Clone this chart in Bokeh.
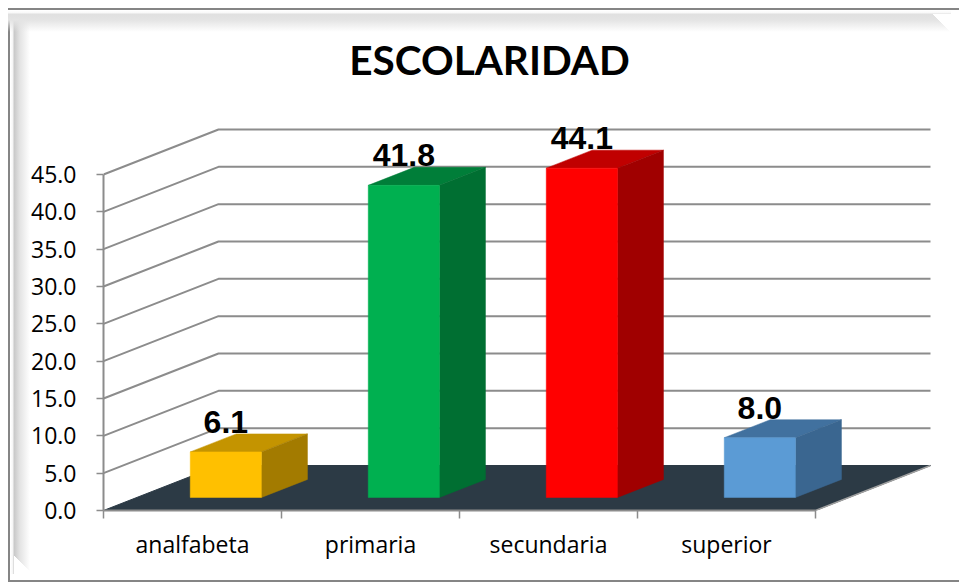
from bokeh.plotting import figure
from bokeh.models import LinearAxis, FixedTicker, Range1d
from bokeh.embed import file_html
from bokeh.resources import INLINE
from bokeh.core.properties import value

# ---- data ----
categories = ["analfabeta", "primaria", "secundaria", "superior"]
values = [6.1, 41.8, 44.1, 8.0]
labels = ["6.1", "41.8", "44.1", "8.0"]
y_ticks = [0, 5, 10, 15, 20, 25, 30, 35, 40, 45]
front_colors = ["#FFC000", "#00B050", "#FF0000", "#5B9BD5"]
top_colors = ["#C49400", "#007E39", "#C00000", "#41719F"]
side_colors = ["#A37B00", "#006F32", "#A00000", "#3A6690"]
chart_title = "ESCOLARIDAD"

# ---- pseudo-3D layout ----
W, H = 951, 574
CAT_PX, VAL_PX = 178.0, 7.467        # pixels per category / per value unit
DEPTH_X, DEPTH_Y = 115.0 / CAT_PX, 45.0 / VAL_PX   # full depth in data units
BAR_W = 0.40
D0, D1 = 0.29, 0.69                  # bar depth span, front to back
M_LEFT, M_TOP, M_BOTTOM = 103, 8, 64
GRID = "#8C8C8C"
n = len(categories)

bevel = ", ".join([
    "linear-gradient(to top right, #fff 50%, transparent 51%) 14px 100% / 18px 18px no-repeat",
    "linear-gradient(to bottom left, #fff 50%, transparent 51%) 100% 14px / 18px 18px no-repeat",
    "linear-gradient(to bottom, #858585 0, #858585 2px, #fff 2.5px, #f8f8f8 5px, #e0e0e0 6px, #e4e4e4 12px, rgba(255,255,255,0) 24px) 8px 8px / calc(100% - 8px) 24px no-repeat",
    "linear-gradient(to right, #858585 0, #858585 2px, #fff 2.5px, #f4f4f4 5px, #c8c8c8 6px, #e4e4e4 12px, rgba(255,255,255,0) 22px) 8px 8px / 22px calc(100% - 8px) no-repeat",
])
outer = ", ".join(["14px 8px 0 -2px #fff", "8px 8px 0 -2px #fff", "8px 8px 0 0 #858585"])

p = figure(width=W, height=H, output_backend="svg", toolbar_location=None,
           x_axis_type=None, y_axis_type=None,
           x_range=Range1d(0, (W - M_LEFT) / CAT_PX),
           y_range=Range1d(0, (H - M_TOP - M_BOTTOM) / VAL_PX),
           min_border_left=M_LEFT, min_border_right=0, min_border_top=M_TOP, min_border_bottom=M_BOTTOM,
           background_fill_color=None, border_fill_color=None,
           styles={"background": bevel, "box-shadow": outer})
p.outline_line_color = None
p.grid.visible = False

# floor
p.patch([0, n, n + DEPTH_X, DEPTH_X], [0, 0, DEPTH_Y, DEPTH_Y], fill_color="#2C3A45", line_color="#2C3A45")
p.line([n, n + DEPTH_X], [0, DEPTH_Y], line_color="#A0A0A0", line_width=1.5)

# side wall and back wall gridlines
for t in y_ticks[1:]:
    p.line([0, DEPTH_X, n + DEPTH_X], [t, t + DEPTH_Y, t + DEPTH_Y], line_color=GRID, line_width=2)

# bars
fx0, fx1, fy0, fy1 = [], [], [], []
txs, tys, sxs, sys = [], [], [], []
for i, v in enumerate(values):
    x0 = i + 0.5 - BAR_W / 2 + D0 * DEPTH_X
    x1 = x0 + BAR_W
    y0 = D0 * DEPTH_Y
    y1 = y0 + v
    dx = (D1 - D0) * DEPTH_X
    dy = (D1 - D0) * DEPTH_Y
    fx0.append(x0); fx1.append(x1); fy0.append(y0); fy1.append(y1)
    txs.append([x0, x1, x1 + dx, x0 + dx]); tys.append([y1, y1, y1 + dy, y1 + dy])
    sxs.append([x1, x1 + dx, x1 + dx, x1]); sys.append([y0, y0 + dy, y1 + dy, y1])

p.patches(txs, tys, fill_color=top_colors, line_color=top_colors, line_width=0.5)
p.patches(sxs, sys, fill_color=side_colors, line_color=side_colors, line_width=0.5)
p.quad(left=fx0, right=fx1, bottom=fy0, top=fy1, fill_color=front_colors, line_color=front_colors, line_width=0.5)

# data labels
cx = [(a + b) / 2 for a, b in zip(fx0, fx1)]
p.text(cx, fy1, text=labels, text_font=value("Liberation Sans"), text_font_style="bold",
       text_font_size="32px", text_color="#000000", text_align="center", text_baseline="alphabetic",
       y_offset=-30)

# title
p.text([(489 - 103) / CAT_PX], [(510 - 59) / VAL_PX], text=[chart_title], text_font=value("Lato"),
       text_font_style="bold", text_font_size="40.5px", text_color="#000000",
       text_align="center", text_baseline="alphabetic")

# axes
yax = LinearAxis(ticker=FixedTicker(ticks=y_ticks), bounds=(0, 45))
yax.major_label_overrides = {t: f"{t:.1f}" for t in y_ticks}
yax.axis_line_color = GRID; yax.axis_line_width = 2
yax.major_tick_line_color = GRID; yax.major_tick_line_width = 1.5
yax.major_tick_out = 7; yax.major_tick_in = 0
yax.minor_tick_line_color = None
yax.major_label_standoff = 20
yax.major_label_text_font = "Open Sans"
yax.major_label_text_font_size = "23px"
yax.major_label_text_color = "#000000"
p.add_layout(yax, "left")

mids = [i + 0.5 for i in range(n)]
xax = LinearAxis(ticker=FixedTicker(ticks=mids, minor_ticks=list(range(n + 1))), bounds=(0, n))
xax.major_label_overrides = dict(zip(mids, categories))
xax.axis_line_color = GRID; xax.axis_line_width = 2
xax.major_tick_line_color = None
xax.major_tick_out = 0; xax.major_tick_in = 0
xax.minor_tick_line_color = GRID; xax.minor_tick_line_width = 1.5
xax.minor_tick_out = 8; xax.minor_tick_in = 0
xax.major_label_standoff = 9
xax.major_label_text_font = "Open Sans"
xax.major_label_text_font_size = "23px"
xax.major_label_text_color = "#000000"
p.add_layout(xax, "below")

open("out.html", "w").write(file_html(p, INLINE))
